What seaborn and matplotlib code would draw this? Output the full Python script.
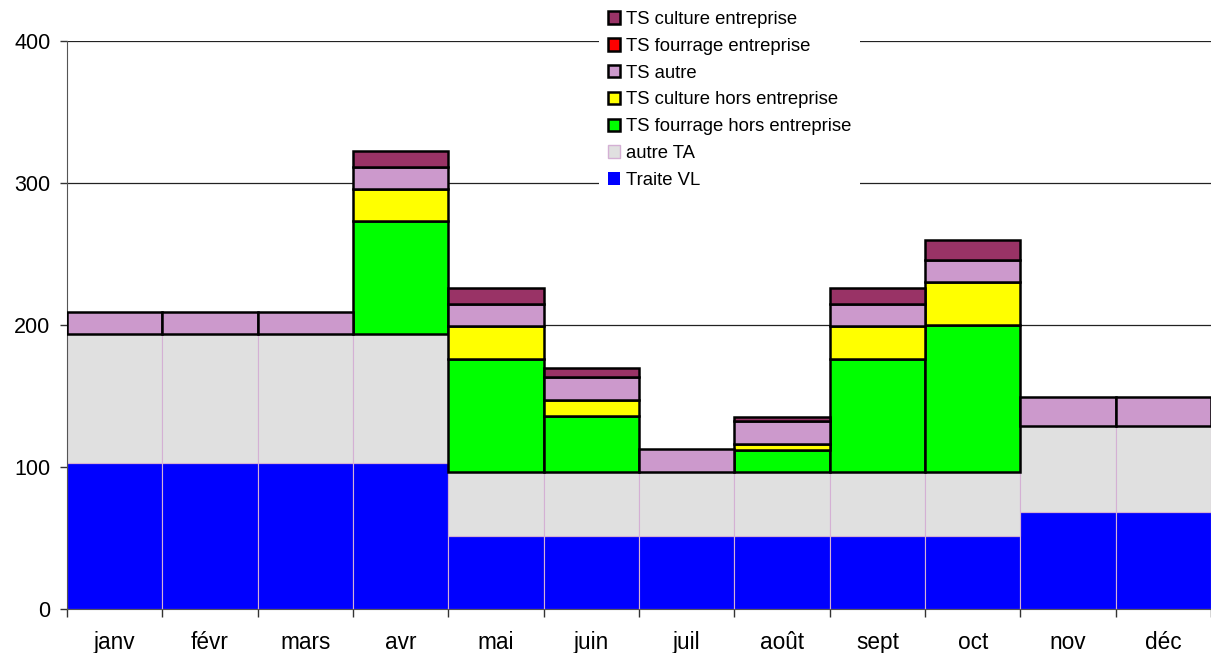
import matplotlib
matplotlib.use("Agg")
import matplotlib.pyplot as plt
import matplotlib.colors as mcolors
from matplotlib.patches import Patch
import seaborn as sns
import pandas as pd

# categories
mois = ["janv", "févr", "mars", "avr", "mai", "juin",
        "juil", "août", "sept", "oct", "nov", "déc"]

# series values
ts_culture_ent = [0, 0, 0, 11, 11, 6, 0, 3, 11, 14, 0, 0]
ts_fourrage_ent = [0, 0, 0, 0, 0, 0, 0, 0, 0, 0, 0, 0]
ts_autre = [15.5, 15.5, 15.5, 15.5, 16, 16, 16, 16, 16, 16, 20, 20]
ts_culture_hors = [0, 0, 0, 23, 23, 11.5, 0, 4.5, 23, 30, 0, 0]
ts_fourrage_hors = [0, 0, 0, 79.5, 79.5, 39.5, 0, 15.5, 79.5, 103.5, 0, 0]
autre_ta = [90.5, 90.5, 90.5, 90.5, 45, 45, 45, 45, 45, 45, 60.5, 60.5]
traite_vl = [103, 103, 103, 103, 51.5, 51.5, 51.5, 51.5, 51.5, 51.5, 68.5, 68.5]

series = ["TS culture entreprise", "TS fourrage entreprise", "TS autre",
          "TS culture hors entreprise", "TS fourrage hors entreprise",
          "autre TA", "Traite VL"]
values = [ts_culture_ent, ts_fourrage_ent, ts_autre, ts_culture_hors,
          ts_fourrage_hors, autre_ta, traite_vl]
couleurs = ["#993366", "#ff0000", "#cc99cc", "#ffff00", "#00ff00",
            "#e0e0e0", "#0000ff"]

rows = []
for name, vals in zip(series, values):
    for i, v in enumerate(vals):
        rows.append({"mois": i, "serie": name, "valeur": v})
df = pd.DataFrame(rows)

sns.set_style("white")
plt.rcParams["font.family"] = ["Liberation Sans", "DejaVu Sans"]
plt.rcParams["text.color"] = "black"
plt.rcParams["xtick.color"] = "black"
plt.rcParams["ytick.color"] = "black"
fs_leg = 13.3
fs_tick = 16.3

fig = plt.figure(figsize=(12.11, 6.53), dpi=100)
ax = fig.add_axes([67 / 1211, 1 - 609 / 653, 1 - 67 / 1211, (609 - 41) / 653])

sns.histplot(data=df, x="mois", weights="valeur", hue="serie",
             hue_order=series, palette=couleurs, multiple="stack",
             discrete=True, shrink=1, alpha=1, legend=False, ax=ax)

# edges: black for TS series, light for the base ones
light = {mcolors.to_hex(c) for c in ["#e0e0e0", "#0000ff"]}
for p in ax.patches:
    if p.get_height() <= 0:
        p.set_visible(False)
        continue
    fc = mcolors.to_hex(p.get_facecolor())
    if fc in light:
        p.set_edgecolor("#d4b0d4")
        p.set_linewidth(0.8)
        p.set_zorder(2)
    else:
        p.set_edgecolor("black")
        p.set_linewidth(1.8)
        p.set_zorder(3)

ax.set_xlim(-0.5, 11.5)
ax.set_ylim(0, 400)
ax.set_yticks([0, 100, 200, 300, 400])
ax.yaxis.grid(True, color="#222222", linewidth=0.9)
ax.set_axisbelow(True)
ax.set_xticks(range(12))
ax.set_xticklabels(mois)
ax.set_xticks([i + 0.5 for i in range(-1, 12)], minor=True)
ax.tick_params(axis="x", which="major", length=0, labelsize=fs_tick, pad=16)
ax.tick_params(axis="x", which="minor", length=6, width=1, color="#333333",
               direction="out", bottom=True)
ax.tick_params(axis="y", length=5, width=1, color="#333333", direction="out",
               labelsize=15.5, left=True, pad=7)
ax.set_xlabel("")
ax.set_ylabel("")
for s in ["top", "right"]:
    ax.spines[s].set_visible(False)
ax.spines["left"].set_color("#555555")
ax.spines["bottom"].set_color("#555555")

handles = []
for name, c in zip(series, couleurs):
    if c == "#0000ff":
        handles.append(Patch(facecolor=c, edgecolor="none", label=name))
    elif c == "#e0e0e0":
        handles.append(Patch(facecolor=c, edgecolor="#d4b0d4", linewidth=1, label=name))
    else:
        handles.append(Patch(facecolor=c, edgecolor="black", linewidth=1.8, label=name))
leg = fig.legend(handles=handles, loc="upper left",
                 bbox_to_anchor=(597 / 1211, 1.0), fontsize=fs_leg,
                 frameon=True, fancybox=False, framealpha=1,
                 handlelength=0.65, handleheight=0.65, handletextpad=0.3,
                 labelspacing=0.53, borderpad=0.5, borderaxespad=0.1)
leg.get_frame().set_edgecolor("none")
leg.get_frame().set_facecolor("white")
leg.set_zorder(10)

fig.savefig("out.png", dpi=100)
